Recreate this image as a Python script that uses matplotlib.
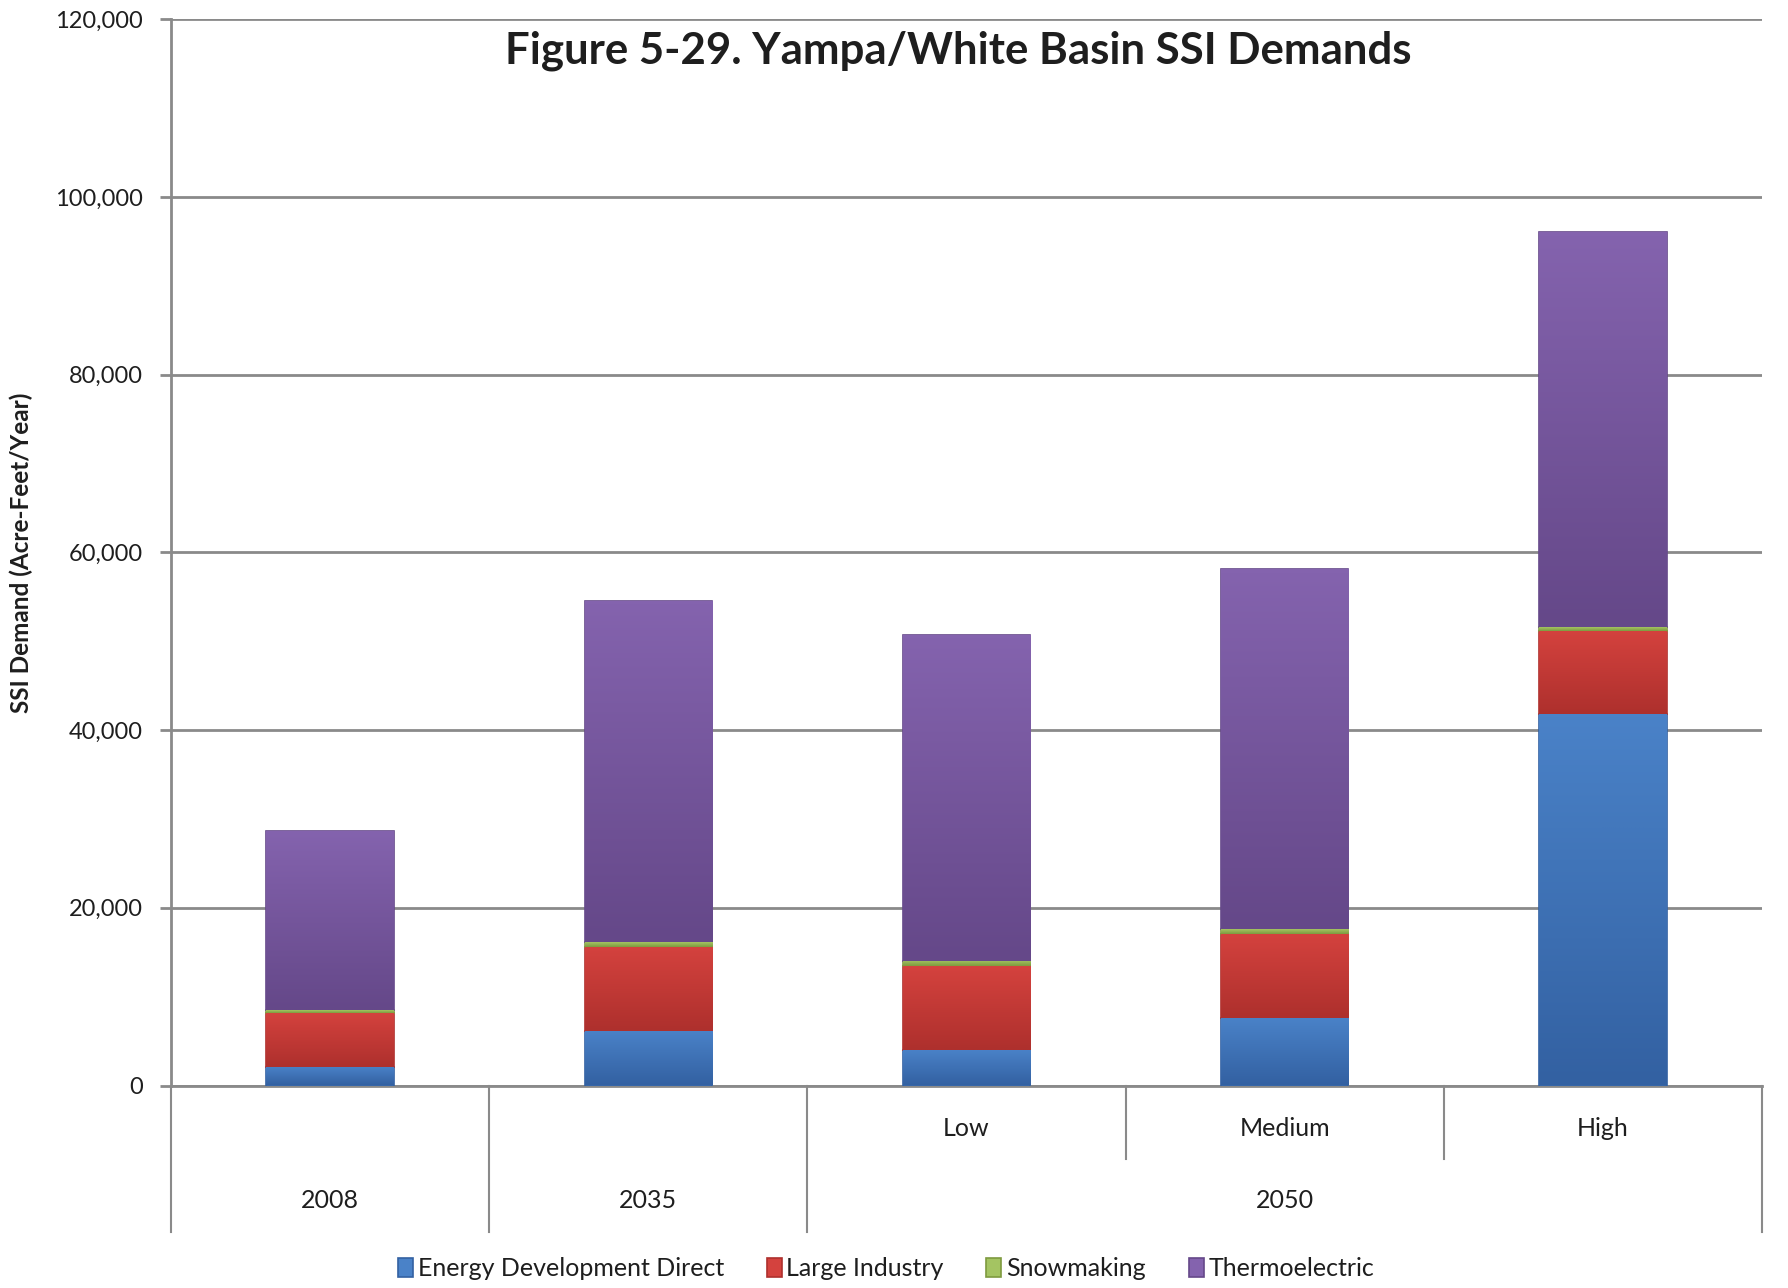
import numpy as np
import matplotlib.pyplot as plt
from matplotlib.colors import LinearSegmentedColormap
from matplotlib.transforms import blended_transform_factory

plt.rcParams['font.family'] = ['Lato', 'DejaVu Sans']

# data (acre-feet / year)
scenarios = ["2008", "2035", "Low", "Medium", "High"]
top_labels = ["", "", "Low", "Medium", "High"]
groups = ["2008", "2035", "2050"]
energy = [2100, 6100, 4000, 7600, 41800]
industry = [6100, 9500, 9400, 9500, 9400]
snow = [300, 500, 650, 560, 400]
thermo = [20200, 38400, 36700, 40500, 44500]

series = [("Energy Development Direct", energy, "#4A82C8", "#3361A2"),
          ("Large Industry", industry, "#D4423E", "#AE302D"),
          ("Snowmaking", snow, "#A4C462", "#7E9A3F"),
          ("Thermoelectric", thermo, "#8463AE", "#654889")]

W, H = 1788, 1288
fig = plt.figure(figsize=(W / 100, H / 100), dpi=100)
ax = fig.add_axes([171 / W, 1 - 1085.5 / H, (1762 - 171) / W, (1085.5 - 19.4) / H])

x = np.arange(len(scenarios))
bottom = np.zeros(len(scenarios))
handles = []
grad = np.linspace(0, 1, 64).reshape(-1, 1)
for name, vals, light, dark in series:
    bars = ax.bar(x, vals, 0.4, bottom=bottom, color=light, edgecolor=dark,
                  linewidth=1.2, label=name, zorder=3)
    handles.append(bars)
    # top-to-bottom shading on each segment
    cmap = LinearSegmentedColormap.from_list(name, [dark, light])
    for p in bars.patches:
        x0, y0 = p.get_x(), p.get_y()
        im = ax.imshow(grad, cmap=cmap, aspect="auto", origin="lower",
                       extent=[x0, x0 + p.get_width(), y0, y0 + p.get_height()],
                       zorder=3.5, interpolation="bilinear")
        im.set_clip_path(p)
    bottom += np.array(vals)

txt = "#1e1e1e"
ax.set_xlim(-0.5, len(scenarios) - 0.5)
ax.set_ylim(0, 120000)
ax.set_yticks(np.arange(0, 120001, 20000))
ax.set_yticklabels([f"{v:,}" for v in range(0, 120001, 20000)], fontsize=17, color=txt)
ax.yaxis.grid(True, color="#8a8a8a", linewidth=2)
ax.set_axisbelow(True)
ax.tick_params(axis="y", length=8, width=2, color="#8a8a8a", pad=12)
ax.tick_params(axis="x", bottom=False, labelbottom=False)
for s in ["top", "right"]:
    ax.spines[s].set_visible(False)
for s in ["left", "bottom"]:
    ax.spines[s].set_color("#8a8a8a")
    ax.spines[s].set_linewidth(2)

ax.set_ylabel("SSI Demand (Acre-Feet/Year)", fontsize=17.5, fontweight="bold", color=txt)
ax.yaxis.set_label_coords(-0.087, 0.5)

# multi-level category axis
tr = blended_transform_factory(ax.transData, ax.transAxes)
for s in [-0.5, 0.5, 1.5, 4.5]:
    ax.plot([s, s], [0, -0.137], transform=tr, color="#8a8a8a", lw=1.5, clip_on=False)
for s in [2.5, 3.5]:
    ax.plot([s, s], [0, -0.0686], transform=tr, color="#8a8a8a", lw=1.5, clip_on=False)
for xi, lab in zip(x, top_labels):
    if lab:
        ax.text(xi, -0.04, lab, transform=tr, ha="center", va="center", fontsize=18, color=txt)
for gp, g in zip([0, 1, 3], groups):
    ax.text(gp, -0.108, g, transform=tr, ha="center", va="center", fontsize=18, color=txt)

fig.text(958 / W, 1 - 51 / H, "Figure 5-29. Yampa/White Basin SSI Demands",
         ha="center", va="center", fontsize=31.5, fontweight="bold", color=txt)

fig.legend(handles=handles, loc="center", bbox_to_anchor=(886 / W, 1 - 1269 / H),
           ncol=4, frameon=False, fontsize=18, handlelength=0.6, handleheight=0.8,
           handletextpad=0.2, columnspacing=1.7, labelcolor=txt)

fig.savefig("out.png", dpi=100)
